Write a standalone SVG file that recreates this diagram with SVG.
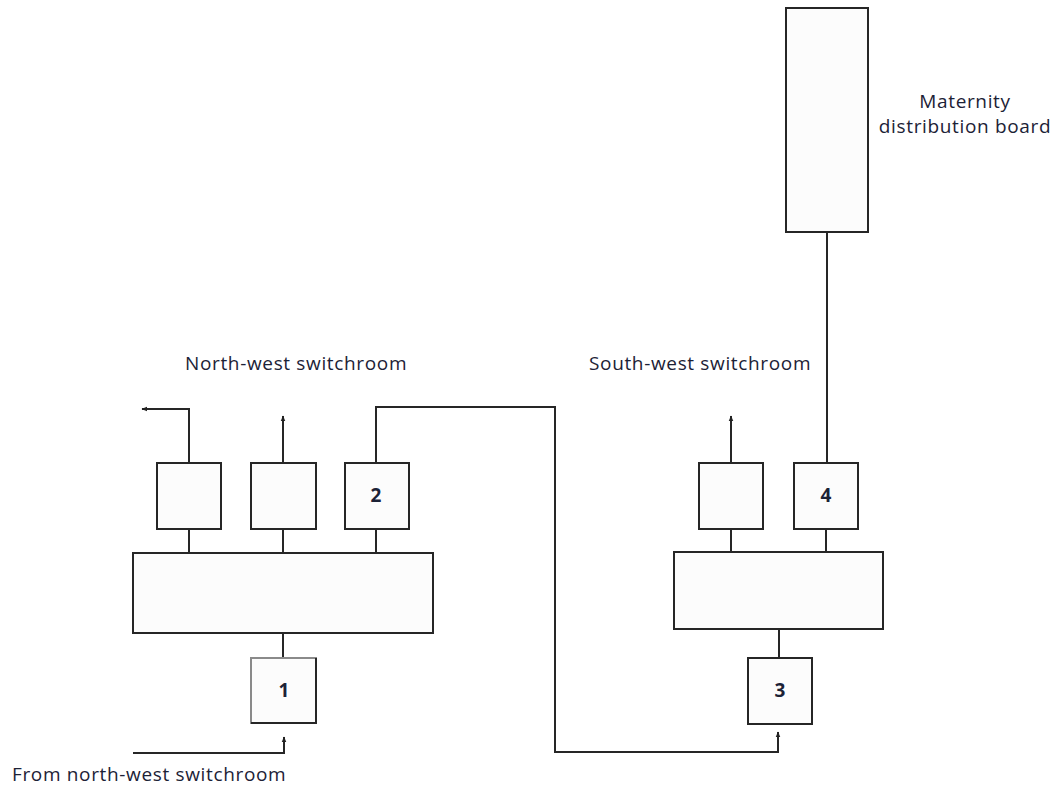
<svg xmlns="http://www.w3.org/2000/svg" width="1058" height="787" viewBox="0 0 1058 787">
<defs>
<marker id="arr" viewBox="0 0 10 10" refX="9" refY="5" markerWidth="6" markerHeight="6" markerUnits="userSpaceOnUse" orient="auto">
<path d="M0,1 L10,5 L0,9 Z" fill="#222"/>
</marker>
<style>
.box{fill:#fcfcfc;stroke:#262626;stroke-width:2}
.ln{fill:none;stroke:#262626;stroke-width:2}
.lbl{font-family:"Open Sans",Lato,sans-serif;font-size:19px;letter-spacing:0.65px;fill:#1c2236}
.num{font-family:"Open Sans","Liberation Sans",sans-serif;font-size:19px;font-weight:bold;fill:#1c2236;text-anchor:middle}
</style>
</defs>
<rect width="1058" height="787" fill="#fff"/>
<g id="connectors">
<path class="ln" d="M189,463 V409 H142" marker-end="url(#arr)"/>
<path class="ln" d="M283,463 V416" marker-end="url(#arr)"/>
<path class="ln" d="M376,463 V407 H555 V752 H778 V732" marker-end="url(#arr)"/>
<path class="ln" d="M189,529 V553 M283,529 V553 M376,529 V553"/>
<path class="ln" d="M283,633 V658"/>
<path class="ln" d="M133,753 H284 V737" marker-end="url(#arr)"/>
<path class="ln" d="M731,463 V416" marker-end="url(#arr)"/>
<path class="ln" d="M731,529 V552 M826,529 V552"/>
<path class="ln" d="M779,629 V658"/>
<path class="ln" d="M827,463 V232"/>
</g>
<g id="nw-board"><rect class="box" x="133" y="553" width="300" height="80"/></g>
<g id="nw-a"><rect class="box" x="157" y="463" width="64" height="66"/></g>
<g id="nw-b"><rect class="box" x="251" y="463" width="65" height="66"/></g>
<g id="nw-2"><rect class="box" x="345" y="463" width="64" height="66"/><text class="num" x="376" y="502">2</text></g>
<g id="nw-1"><rect x="251" y="658" width="65" height="65" fill="#fcfcfc" stroke="#8a8a8a" stroke-width="2"/><path class="ln" d="M251,723 H316 V658"/><text class="num" x="284" y="697">1</text></g>
<g id="sw-board"><rect class="box" x="674" y="552" width="209" height="77"/></g>
<g id="sw-a"><rect class="box" x="699" y="463" width="64" height="66"/></g>
<g id="sw-4"><rect class="box" x="794" y="463" width="64" height="66"/><text class="num" x="826" y="502">4</text></g>
<g id="sw-3"><rect class="box" x="748" y="658" width="64" height="66"/><text class="num" x="780" y="697">3</text></g>
<g id="maternity"><rect class="box" x="786" y="8" width="82" height="224"/></g>
<g id="labels">
<text class="lbl" x="185" y="370">North-west switchroom</text>
<text class="lbl" x="589" y="370">South-west switchroom</text>
<text class="lbl" x="12" y="781">From north-west switchroom</text>
<text class="lbl" x="965" y="108" text-anchor="middle">Maternity</text>
<text class="lbl" x="965" y="133" text-anchor="middle">distribution board</text>
</g>
</svg>
